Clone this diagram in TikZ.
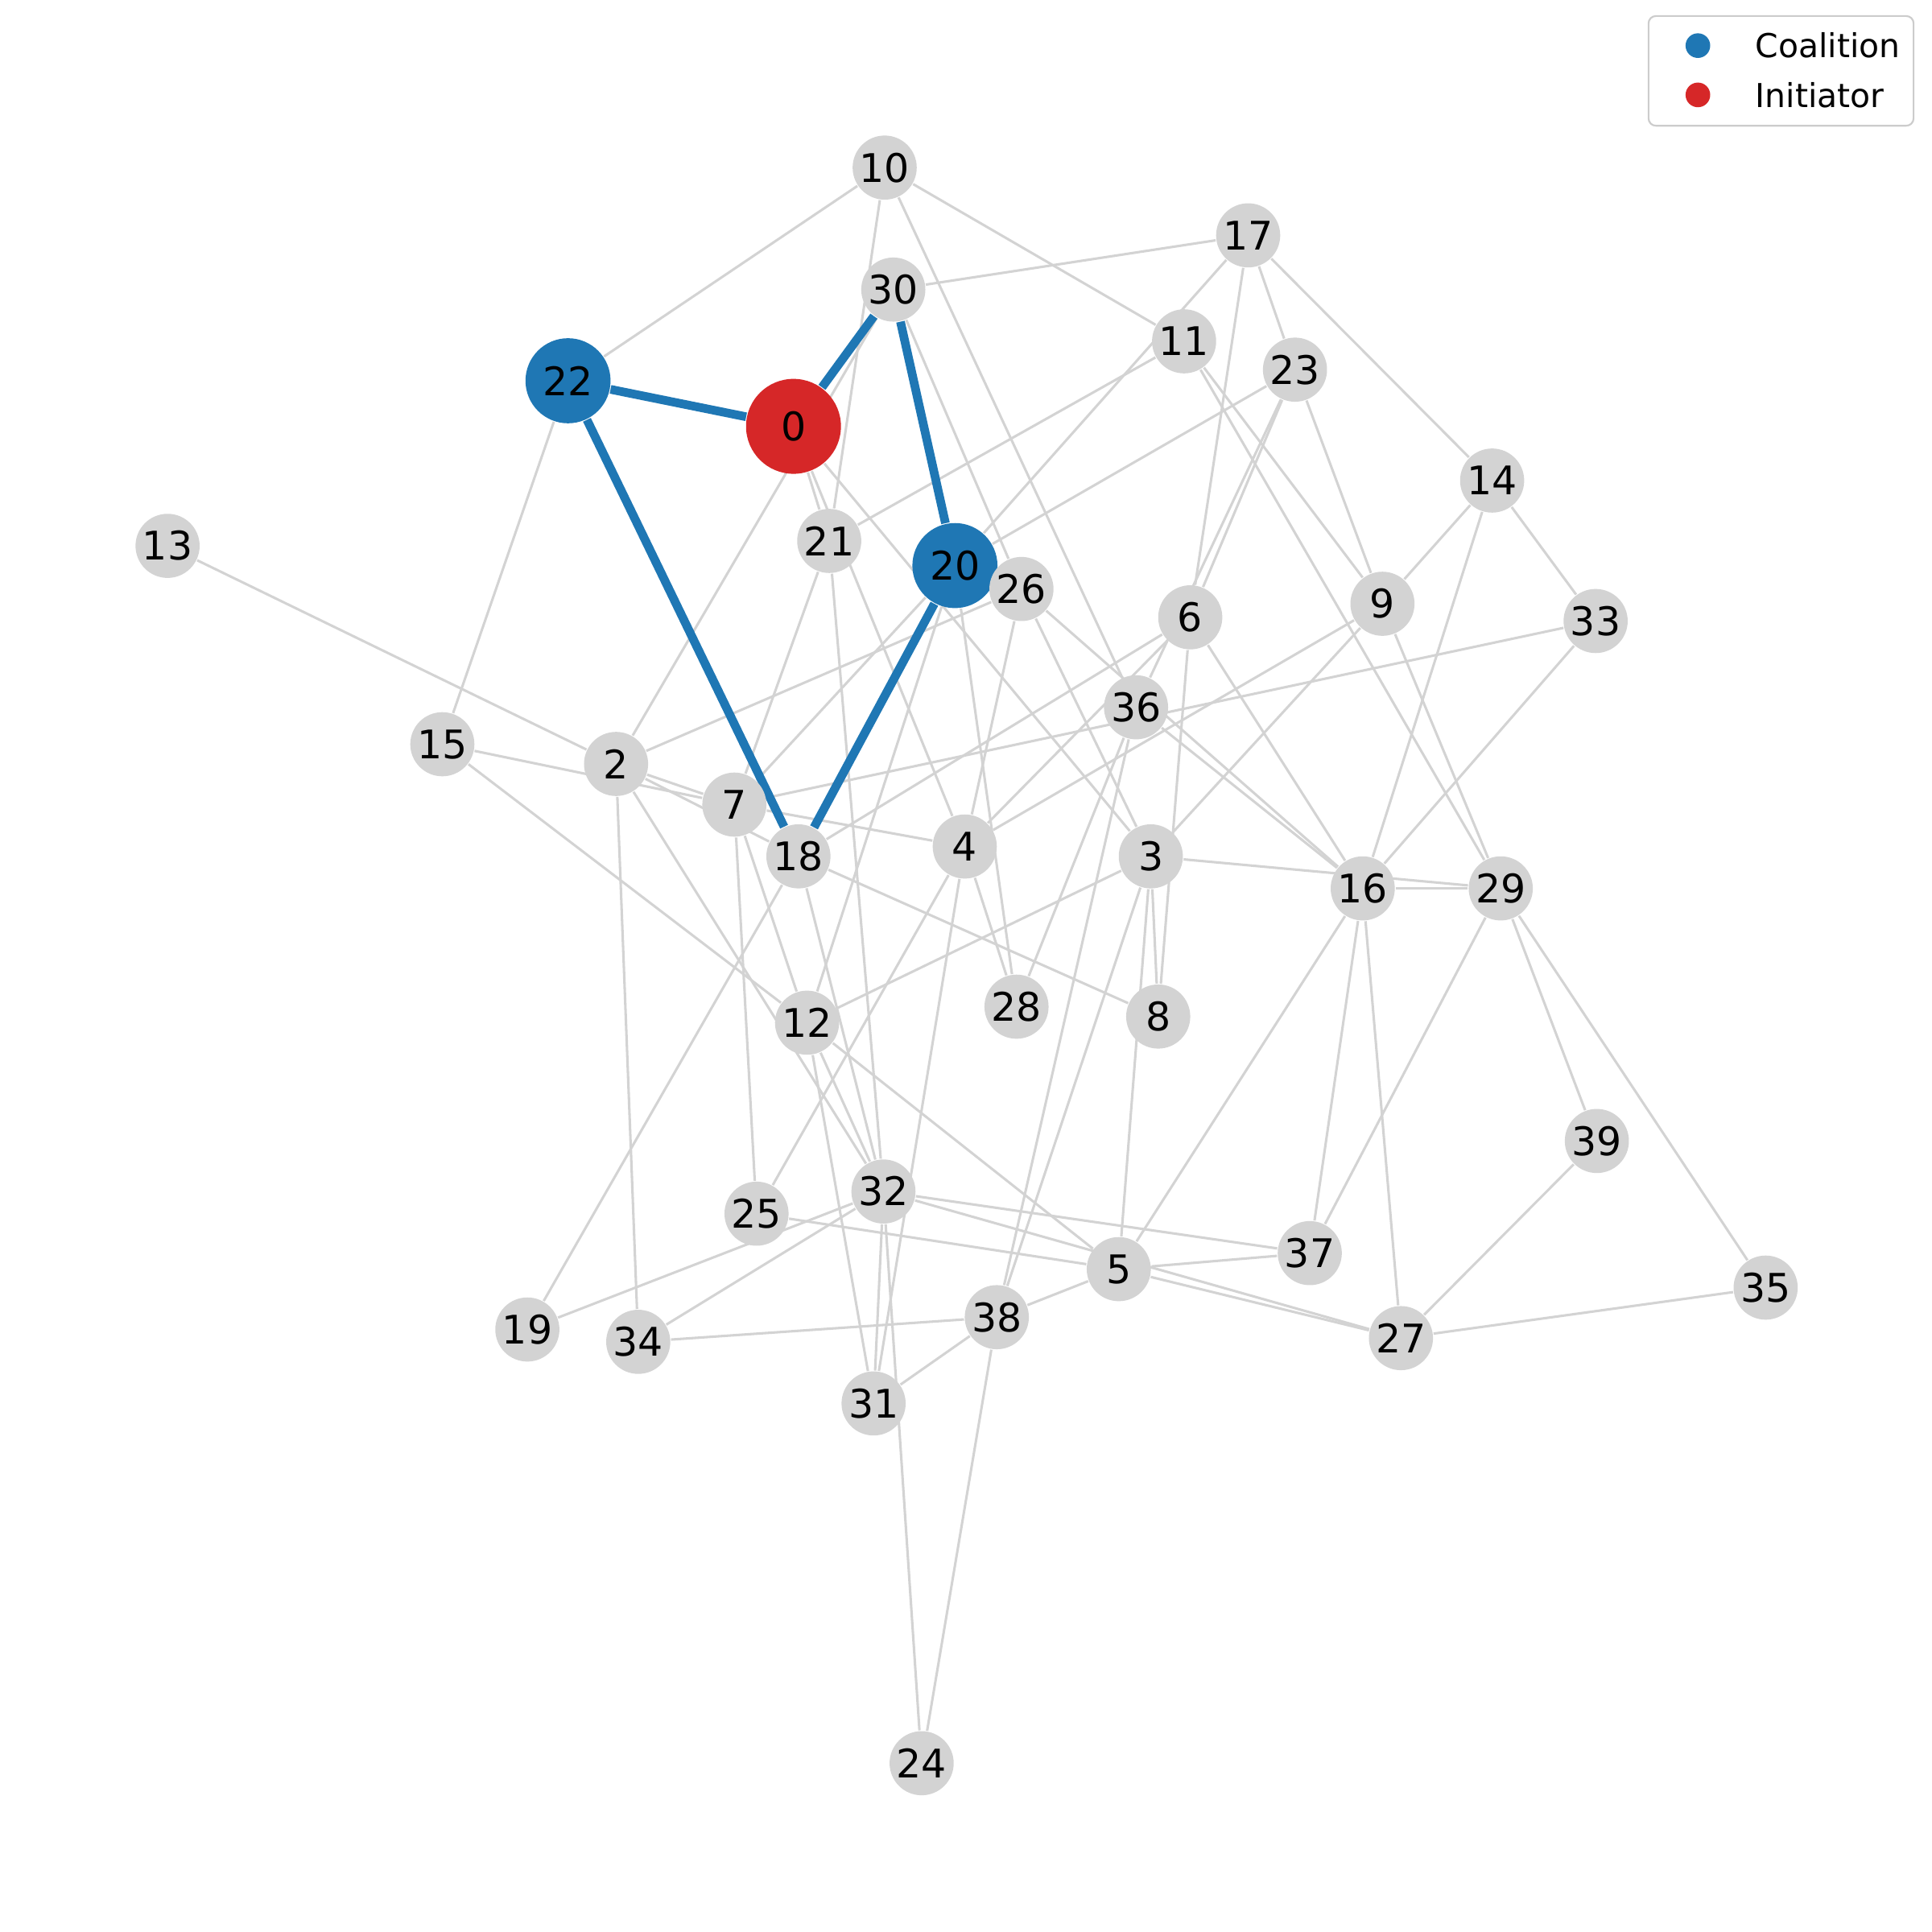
\documentclass[tikz,border=0pt]{standalone}
\usepackage{fontspec}
\setmainfont{DejaVu Sans}
\usetikzlibrary{backgrounds}
\definecolor{nodegray}{HTML}{D3D3D3}
\definecolor{mplblue}{HTML}{1F77B4}
\definecolor{mplred}{HTML}{D62728}
\begin{document}
\begin{tikzpicture}[x=0.01cm,y=-0.01cm,
  gnode/.style={circle,fill=nodegray,minimum size=0.52cm,inner sep=0pt,font=\fontsize{9.1}{10}\selectfont},
  bnode/.style={gnode,fill=mplblue,minimum size=0.69cm},
  rnode/.style={gnode,fill=mplred,minimum size=0.77cm},
  gedge/.style={draw=nodegray,line width=0.57pt},
  cedge/.style={draw=mplblue,line width=2.0pt},
  legtext/.style={anchor=west,inner sep=0pt,font=\fontsize{7.6}{9}\selectfont},
  legdot/.style={circle,inner sep=0pt,minimum size=0.2cm}]
\useasboundingbox (0,0) rectangle (1568,1568);
% nodes
\node[gnode] (n10) at (718,136) {10};
\node[gnode] (n17) at (1013,191) {17};
\node[gnode] (n30) at (725,235) {30};
\node[gnode] (n11) at (961,277) {11};
\node[gnode] (n23) at (1051,300) {23};
\node[bnode] (n22) at (461,309) {22};
\node[rnode] (n0) at (644,346) {0};
\node[gnode] (n14) at (1211,390) {14};
\node[gnode] (n13) at (136,443) {13};
\node[gnode] (n21) at (673,439) {21};
\node[bnode] (n20) at (775,459) {20};
\node[gnode] (n26) at (829,478) {26};
\node[gnode] (n6) at (966,501) {6};
\node[gnode] (n9) at (1122,490) {9};
\node[gnode] (n33) at (1295,504) {33};
\node[gnode] (n36) at (922,574) {36};
\node[gnode] (n15) at (359,604) {15};
\node[gnode] (n2) at (500,620) {2};
\node[gnode] (n7) at (596,653) {7};
\node[gnode] (n18) at (648,695) {18};
\node[gnode] (n4) at (783,687) {4};
\node[gnode] (n3) at (934,695) {3};
\node[gnode] (n16) at (1106,721) {16};
\node[gnode] (n29) at (1218,721) {29};
\node[gnode] (n28) at (825,817) {28};
\node[gnode] (n8) at (940,825) {8};
\node[gnode] (n12) at (655,830) {12};
\node[gnode] (n39) at (1296,926) {39};
\node[gnode] (n25) at (614,985) {25};
\node[gnode] (n32) at (717,967) {32};
\node[gnode] (n37) at (1063,1017) {37};
\node[gnode] (n5) at (908,1030) {5};
\node[gnode] (n35) at (1433,1045) {35};
\node[gnode] (n19) at (428,1079) {19};
\node[gnode] (n34) at (518,1089) {34};
\node[gnode] (n38) at (809,1069) {38};
\node[gnode] (n27) at (1137,1086) {27};
\node[gnode] (n31) at (709,1139) {31};
\node[gnode] (n24) at (748,1431) {24};
% edges
\begin{scope}[on background layer]
\foreach \a/\b in {10/22,10/11,10/21,10/36,
  30/17,30/26,30/2,
  17/20,17/6,17/23,17/14,
  11/21,11/9,11/29,
  23/20,23/6,23/36,23/9,
  14/9,14/33,14/16,
  13/2,22/15,15/7,15/12,
  0/21,0/4,0/3,
  21/7,21/32,
  20/7,20/12,20/28,
  26/2,26/4,26/3,26/16,
  6/18,6/4,6/8,6/16,
  9/4,9/3,9/29,
  33/16,33/7,
  36/16,36/28,36/38,
  2/7,2/18,2/34,2/32,
  7/4,7/25,7/12,
  18/8,18/19,18/32,
  4/28,4/25,4/31,
  3/12,3/29,3/8,3/38,3/5,
  16/29,16/5,16/37,16/27,
  29/37,29/39,29/35,
  12/5,12/31,12/32,
  25/5,
  32/37,32/27,32/34,32/31,32/24,32/19,
  38/34,38/5,38/31,38/24,
  5/37,5/27,
  39/27,27/35}
  \draw[gedge] (n\a) -- (n\b);
\foreach \a/\b in {22/0,0/30,30/20,22/18,20/18}
  \draw[cedge] (n\a) -- (n\b);
\end{scope}
% legend
\node[draw=black!20,fill=white,rounded corners=0.06cm,line width=0.4pt,minimum width=2.15cm,minimum height=0.89cm,inner sep=0pt] (legend) at (1445.5,57.5) {};
\node[legdot,fill=mplblue] (legc) at (1378,37) {};
\node[legdot,fill=mplred] (legi) at (1378,77) {};
\node[legtext] (legct) at (1424,37) {Coalition};
\node[legtext] (legit) at (1424,77) {Initiator};
\end{tikzpicture}
\end{document}
